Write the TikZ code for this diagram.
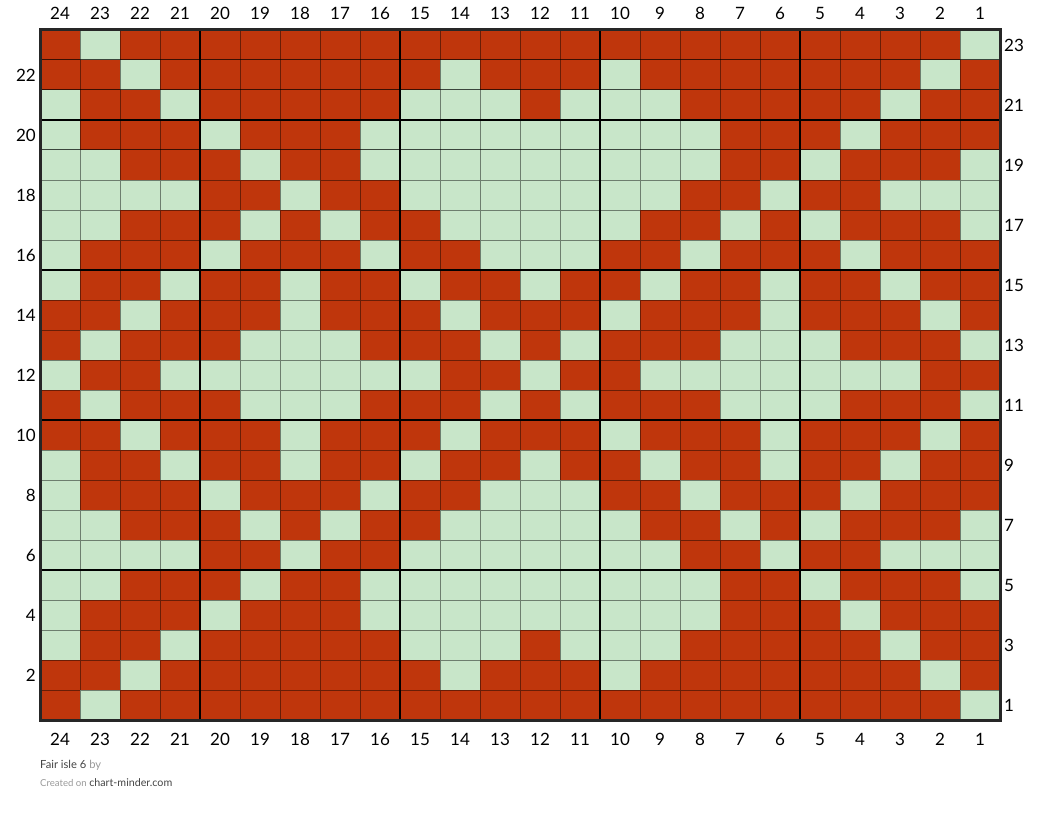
\documentclass[tikz,border=0pt]{standalone}
\usepackage{fontspec}
\setmainfont{Lato}
\definecolor{cell1}{HTML}{BF360C}
\definecolor{cell0}{HTML}{C8E6C9}
\definecolor{footdark}{HTML}{444444}
\definecolor{footlight}{HTML}{999999}
\begin{document}
\begin{tikzpicture}[x=1pt,y=-1pt,
  cellbox/.style={draw=black,draw opacity=0.45,line width=1pt},
  majorline/.style={draw=black,line width=2pt},
  frameline/.style={draw=black!85,line width=3pt},
  numlabel/.style={font=\fontsize{17}{20}\selectfont,inner sep=0pt,text=black}]
\useasboundingbox (0,0) rectangle (1040,813);
\fill[white] (0,0) rectangle (1040,813);
\foreach \rowlist [count=\r] in {
{1,0,1,1,1,1,1,1,1,1,1,1,1,1,1,1,1,1,1,1,1,1,1,0},
{1,1,0,1,1,1,1,1,1,1,0,1,1,1,0,1,1,1,1,1,1,1,0,1},
{0,1,1,0,1,1,1,1,1,0,0,0,1,0,0,0,1,1,1,1,1,0,1,1},
{0,1,1,1,0,1,1,1,0,0,0,0,0,0,0,0,0,1,1,1,0,1,1,1},
{0,0,1,1,1,0,1,1,0,0,0,0,0,0,0,0,0,1,1,0,1,1,1,0},
{0,0,0,0,1,1,0,1,1,0,0,0,0,0,0,0,1,1,0,1,1,0,0,0},
{0,0,1,1,1,0,1,0,1,1,0,0,0,0,0,1,1,0,1,0,1,1,1,0},
{0,1,1,1,0,1,1,1,0,1,1,0,0,0,1,1,0,1,1,1,0,1,1,1},
{0,1,1,0,1,1,0,1,1,0,1,1,0,1,1,0,1,1,0,1,1,0,1,1},
{1,1,0,1,1,1,0,1,1,1,0,1,1,1,0,1,1,1,0,1,1,1,0,1},
{1,0,1,1,1,0,0,0,1,1,1,0,1,0,1,1,1,0,0,0,1,1,1,0},
{0,1,1,0,0,0,0,0,0,0,1,1,0,1,1,0,0,0,0,0,0,0,1,1},
{1,0,1,1,1,0,0,0,1,1,1,0,1,0,1,1,1,0,0,0,1,1,1,0},
{1,1,0,1,1,1,0,1,1,1,0,1,1,1,0,1,1,1,0,1,1,1,0,1},
{0,1,1,0,1,1,0,1,1,0,1,1,0,1,1,0,1,1,0,1,1,0,1,1},
{0,1,1,1,0,1,1,1,0,1,1,0,0,0,1,1,0,1,1,1,0,1,1,1},
{0,0,1,1,1,0,1,0,1,1,0,0,0,0,0,1,1,0,1,0,1,1,1,0},
{0,0,0,0,1,1,0,1,1,0,0,0,0,0,0,0,1,1,0,1,1,0,0,0},
{0,0,1,1,1,0,1,1,0,0,0,0,0,0,0,0,0,1,1,0,1,1,1,0},
{0,1,1,1,0,1,1,1,0,0,0,0,0,0,0,0,0,1,1,1,0,1,1,1},
{0,1,1,0,1,1,1,1,1,0,0,0,1,0,0,0,1,1,1,1,1,0,1,1},
{1,1,0,1,1,1,1,1,1,1,0,1,1,1,0,1,1,1,1,1,1,1,0,1},
{1,0,1,1,1,1,1,1,1,1,1,1,1,1,1,1,1,1,1,1,1,1,1,0}}{
  \foreach \v [count=\c] in \rowlist {
    \path[cellbox,fill=cell\v] ({40*\c},{30*\r}) rectangle ++(40,30);
  }
}
% major lines every 5 stitches / rows
\foreach \xx in {200,400,600,800}
  \draw[majorline] (\xx,30) -- (\xx,720);
\foreach \yy in {120,270,420,570}
  \draw[majorline] (40,\yy) -- (1000,\yy);
\draw[frameline] (40,30) rectangle (1000,720);
% column numbers
\foreach \n in {1,...,24} {
  \node[numlabel] (top\n) at ({1020-40*\n},13) {\n};
  \node[numlabel] (bot\n) at ({1020-40*\n},739) {\n};
}
% row numbers
\foreach \n in {2,4,...,22}
  \node[numlabel,anchor=east] (left\n) at (36,{735-30*\n}) {\n};
\foreach \n in {1,3,...,23}
  \node[numlabel,anchor=west] (right\n) at (1004,{735-30*\n}) {\n};
% footer
\node[anchor=base west,inner sep=0pt,font=\fontsize{11.2}{13}\selectfont] (title) at (40,768)
  {\textcolor{footdark}{Fair isle 6} \textcolor{footlight}{by}};
\node[anchor=base west,inner sep=0pt] (credit) at (40,786)
  {\textcolor{footlight}{\fontsize{9.6}{11}\selectfont Created on} \textcolor{footdark}{\fontsize{10.7}{12}\selectfont chart-minder.com}};
\end{tikzpicture}
\end{document}
